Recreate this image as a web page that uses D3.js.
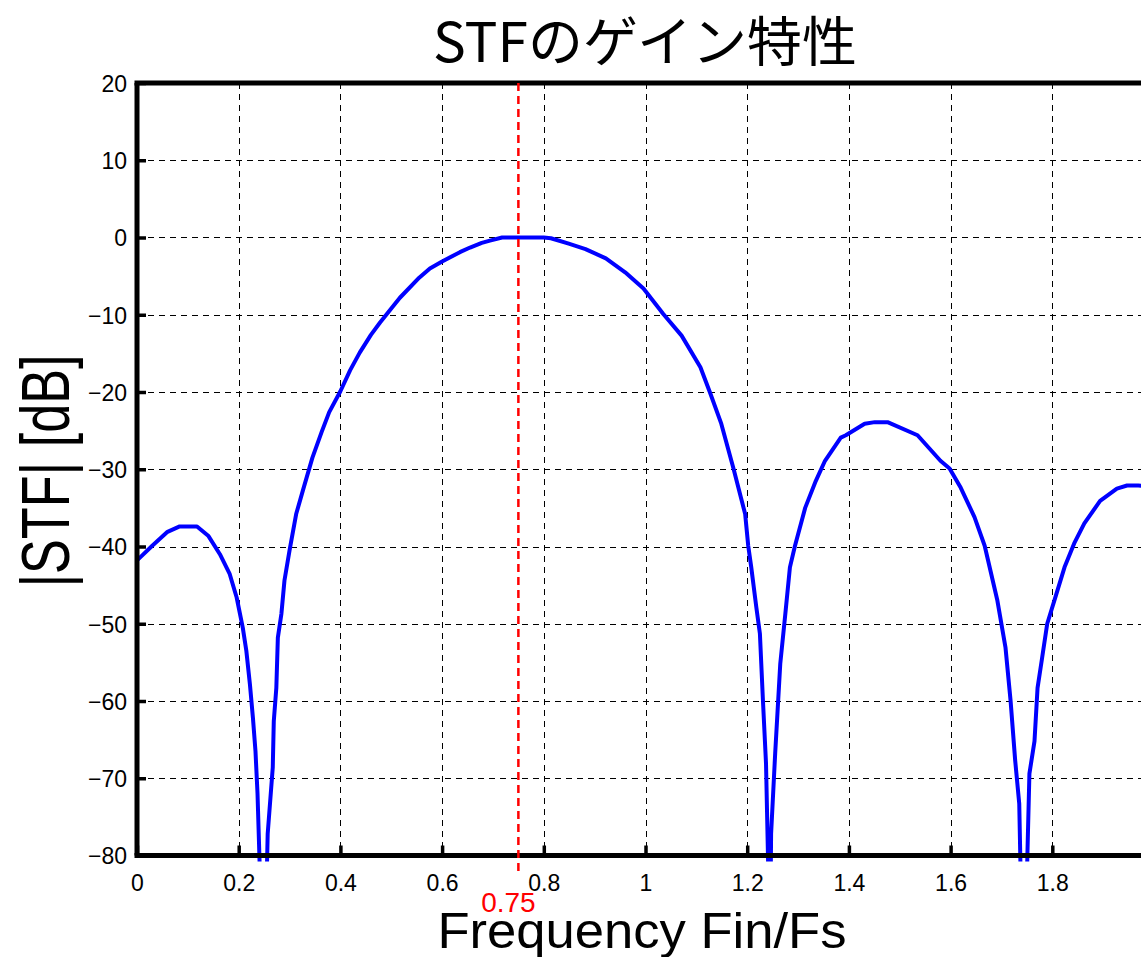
<!DOCTYPE html>
<html>
<head>
<meta charset="utf-8">
<script src="https://cdn.jsdelivr.net/npm/d3@7"></script>
<style>
html,body{margin:0;padding:0;background:#fff;overflow:hidden;}
svg{display:block;}
</style>
</head>
<body>
<svg id="chart" width="1141" height="957"></svg>
<script>
// ---- data ----
const freq = [0,0.03,0.06,0.084,0.118,0.14,0.163,0.182,0.196,0.208,0.215,0.222,0.228,0.233,0.237,0.241,0.248,0.255,0.257,0.267,0.269,0.274,0.277,0.284,0.29,0.30,0.313,0.326,0.345,0.363,0.378,0.40,0.419,0.438,0.46,0.478,0.50,0.517,0.555,0.576,0.60,0.635,0.655,0.678,0.694,0.718,0.751,0.80,0.814,0.849,0.882,0.922,0.96,0.996,1.035,1.071,1.108,1.127,1.149,1.173,1.196,1.202,1.208,1.218,1.225,1.231,1.237,1.241,1.244,1.247,1.255,1.265,1.275,1.284,1.294,1.314,1.335,1.353,1.384,1.394,1.431,1.451,1.476,1.535,1.58,1.598,1.62,1.647,1.667,1.692,1.708,1.718,1.727,1.735,1.737,1.744,1.751,1.755,1.765,1.771,1.78,1.79,1.804,1.824,1.843,1.863,1.894,1.927,1.947,1.969,2.0];
const gainDb = [-41.8,-39.9,-38.1,-37.4,-37.4,-38.6,-41.0,-43.5,-46.6,-50.5,-53.5,-57.8,-62.2,-66.5,-72.0,-80.7,-100,-83,-77.2,-68.6,-62.6,-58.3,-51.8,-48.7,-44.4,-40.5,-35.8,-32.8,-28.5,-25.2,-22.6,-19.9,-17.2,-14.9,-12.6,-11.0,-9.2,-7.8,-5.2,-4.0,-3.1,-1.9,-1.3,-0.7,-0.4,0,0,0,-0.1,-0.8,-1.5,-2.7,-4.5,-6.6,-9.9,-12.7,-16.8,-20.1,-24.1,-29.9,-35.8,-39.9,-42.7,-47.9,-51.3,-60.0,-68.1,-80.5,-100,-77.2,-66.8,-55.2,-48.7,-42.7,-39.9,-35.0,-31.5,-28.9,-25.9,-25.6,-24.1,-23.9,-23.9,-25.6,-28.9,-29.9,-32.4,-36.2,-39.9,-47.0,-53.1,-60.0,-67.7,-73.3,-80,-100,-80,-69.4,-65.2,-58.3,-54.4,-50.0,-47.0,-42.7,-39.6,-37.0,-34.1,-32.5,-32.1,-32.1,-32.3];
const xTicks = [0,0.2,0.4,0.6,0.8,1,1.2,1.4,1.6,1.8];
const yTicks = [20,10,0,-10,-20,-30,-40,-50,-60,-70,-80];
const markerFreq = 0.75;
const markerLabel = "0.75";
const titleText = "STFのゲイン特性";
const xLabel = "Frequency Fin/Fs";
const yLabel = "|STF| [dB]";

(function () {
// ---- layout ----
const svg = d3.select("#chart");
const pLeft = 137, pTop = 83, pBottom = 855.5;
const x = d3.scaleLinear().domain([0, 2]).range([pLeft, pLeft + 2 * 508.5]);
const y = d3.scaleLinear().domain([-80, 20]).range([pBottom, pTop]);
const pRight = x(2);
const latin = "'Liberation Sans', Arial, sans-serif";

// grid
const grid = svg.append("g").attr("stroke", "#000").attr("stroke-width", 1).attr("stroke-dasharray", "6,5");
grid.selectAll("line.v").data(xTicks.filter(d => d > 0)).join("line")
  .attr("class", "v")
  .attr("x1", d => Math.round(x(d)) + 0.5).attr("x2", d => Math.round(x(d)) + 0.5)
  .attr("y1", pTop).attr("y2", pBottom);
grid.selectAll("line.h").data(yTicks.filter(d => d < 20 && d > -80)).join("line")
  .attr("class", "h")
  .attr("x1", pLeft).attr("x2", pRight)
  .attr("y1", d => Math.round(y(d)) + 0.5).attr("y2", d => Math.round(y(d)) + 0.5);

// axes via d3 axis (inward ticks)
const xAxis = svg.append("g").attr("transform", `translate(0,${pBottom})`)
  .call(d3.axisBottom(x).tickValues(xTicks).tickSize(-10).tickPadding(19).tickFormat(d3.format("~g")));
const yAxis = svg.append("g").attr("transform", `translate(${pLeft},0)`)
  .call(d3.axisLeft(y).tickValues(yTicks).tickSize(-9).tickPadding(10).tickFormat(d => d < 0 ? "\u2212" + Math.abs(d) : String(d)));
[xAxis, yAxis].forEach(a => {
  a.select(".domain").remove();
  a.selectAll(".tick line").attr("stroke", "#000").attr("stroke-width", 3.5);
  a.selectAll(".tick text").attr("fill", "#000").style("font-family", latin).style("font-size", "23px");
});
xAxis.selectAll(".tick text").attr("dy", "0.71em");
yAxis.selectAll(".tick text").attr("dy", "0.36em");

// curve
svg.append("clipPath").attr("id", "clip").append("rect")
  .attr("x", pLeft).attr("y", pTop).attr("width", pRight - pLeft).attr("height", pBottom - pTop + 6);
const pts = freq.map((f, i) => [f, gainDb[i]]);
svg.append("path").datum(pts)
  .attr("clip-path", "url(#clip)")
  .attr("fill", "none").attr("stroke", "#0000ff").attr("stroke-width", 4).attr("stroke-linejoin", "round")
  .attr("d", d3.line().x(d => x(d[0])).y(d => y(d[1])));

// frame
const frame = svg.append("g").attr("stroke", "#000").attr("stroke-width", 5).attr("fill", "none");
frame.append("line").attr("x1", pLeft - 2.5).attr("x2", pRight).attr("y1", pTop).attr("y2", pTop);
frame.append("line").attr("x1", pLeft - 2.5).attr("x2", pRight).attr("y1", pBottom).attr("y2", pBottom);
frame.append("line").attr("x1", pLeft).attr("x2", pLeft).attr("y1", pTop).attr("y2", pBottom);

// red marker
svg.append("line")
  .attr("x1", x(markerFreq)).attr("x2", x(markerFreq))
  .attr("y1", pTop).attr("y2", pBottom + 20)
  .attr("stroke", "#ff0000").attr("stroke-width", 2.5).attr("stroke-dasharray", "8,5");
svg.append("text").attr("x", x(markerFreq) - 10).attr("y", 912)
  .attr("text-anchor", "middle").attr("fill", "#ff0000")
  .style("font-family", latin).style("font-size", "28px").text(markerLabel);

// title & labels
svg.append("text").attr("x", 645).attr("y", 62).attr("text-anchor", "middle")
  .attr("textLength", 424).attr("lengthAdjust", "spacingAndGlyphs")
  .style("font-family", "'Noto Sans CJK JP', sans-serif").style("font-size", "54px").text(titleText);
svg.append("text").attr("x", 642).attr("y", 948).attr("text-anchor", "middle")
  .attr("textLength", 409).attr("lengthAdjust", "spacingAndGlyphs")
  .style("font-family", latin).style("font-size", "50px").text(xLabel);
svg.append("text").attr("transform", "translate(69,471) rotate(-90)").attr("text-anchor", "middle")
  .attr("textLength", 233).attr("lengthAdjust", "spacingAndGlyphs")
  .style("font-family", latin).style("font-size", "68px").text(yLabel);
})();
</script>
</body>
</html>
